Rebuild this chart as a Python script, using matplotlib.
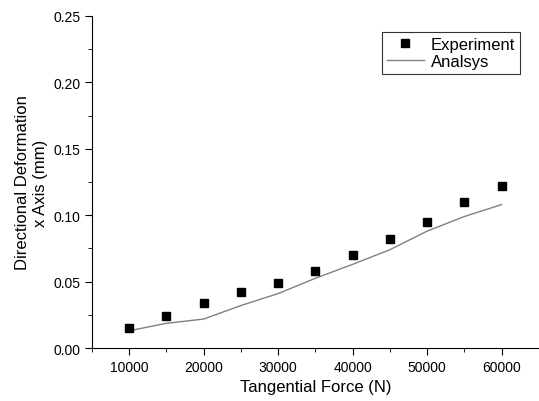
import matplotlib
matplotlib.use("Agg")
import matplotlib.pyplot as plt
from matplotlib.ticker import MultipleLocator

plt.rcParams['font.family'] = ['Liberation Sans', 'DejaVu Sans']

force = [10000, 15000, 20000, 25000, 30000, 35000, 40000, 45000, 50000, 55000, 60000]
experiment = [0.015, 0.024, 0.034, 0.042, 0.049, 0.058, 0.070, 0.082, 0.095, 0.110, 0.122]
analysis = [0.013, 0.0186, 0.0218, 0.032, 0.041, 0.0525, 0.063, 0.074, 0.088, 0.099, 0.108]

fig = plt.figure(figsize=(5.39, 4.02), dpi=100)
ax = fig.add_axes([0.1707, 0.1318, 0.829, 0.826])

ax.plot(force, experiment, 's', color='black', markersize=6, label='Experiment', zorder=3)
ax.plot(force, analysis, '-', color='#808080', linewidth=1, label='Analsys')

ax.set_xlim(5000, 65000)
ax.set_ylim(0, 0.25)
ax.xaxis.set_major_locator(MultipleLocator(10000))
ax.xaxis.set_minor_locator(MultipleLocator(5000))
ax.yaxis.set_major_locator(MultipleLocator(0.05))
ax.yaxis.set_minor_locator(MultipleLocator(0.025))
ax.yaxis.set_major_formatter(matplotlib.ticker.FormatStrFormatter('%.2f'))

for side in ['top', 'right']:
    ax.spines[side].set_visible(False)
ax.tick_params(which='major', direction='out', length=5, labelsize=10)
ax.tick_params(which='minor', direction='out', length=3)

ax.set_xlabel('Tangential Force (N)', fontsize=12)
ax.set_ylabel('Directional Deformation\nx Axis (mm)', fontsize=12, multialignment='center')

leg = ax.legend(loc='upper right', bbox_to_anchor=(0.9575, 0.952), borderaxespad=0,
                fontsize=12, frameon=True, fancybox=False, edgecolor='black',
                borderpad=0.3, handlelength=2.2, handletextpad=0.4, labelspacing=0.1)
leg.get_frame().set_linewidth(0.8)

fig.savefig('out.png', dpi=100)
